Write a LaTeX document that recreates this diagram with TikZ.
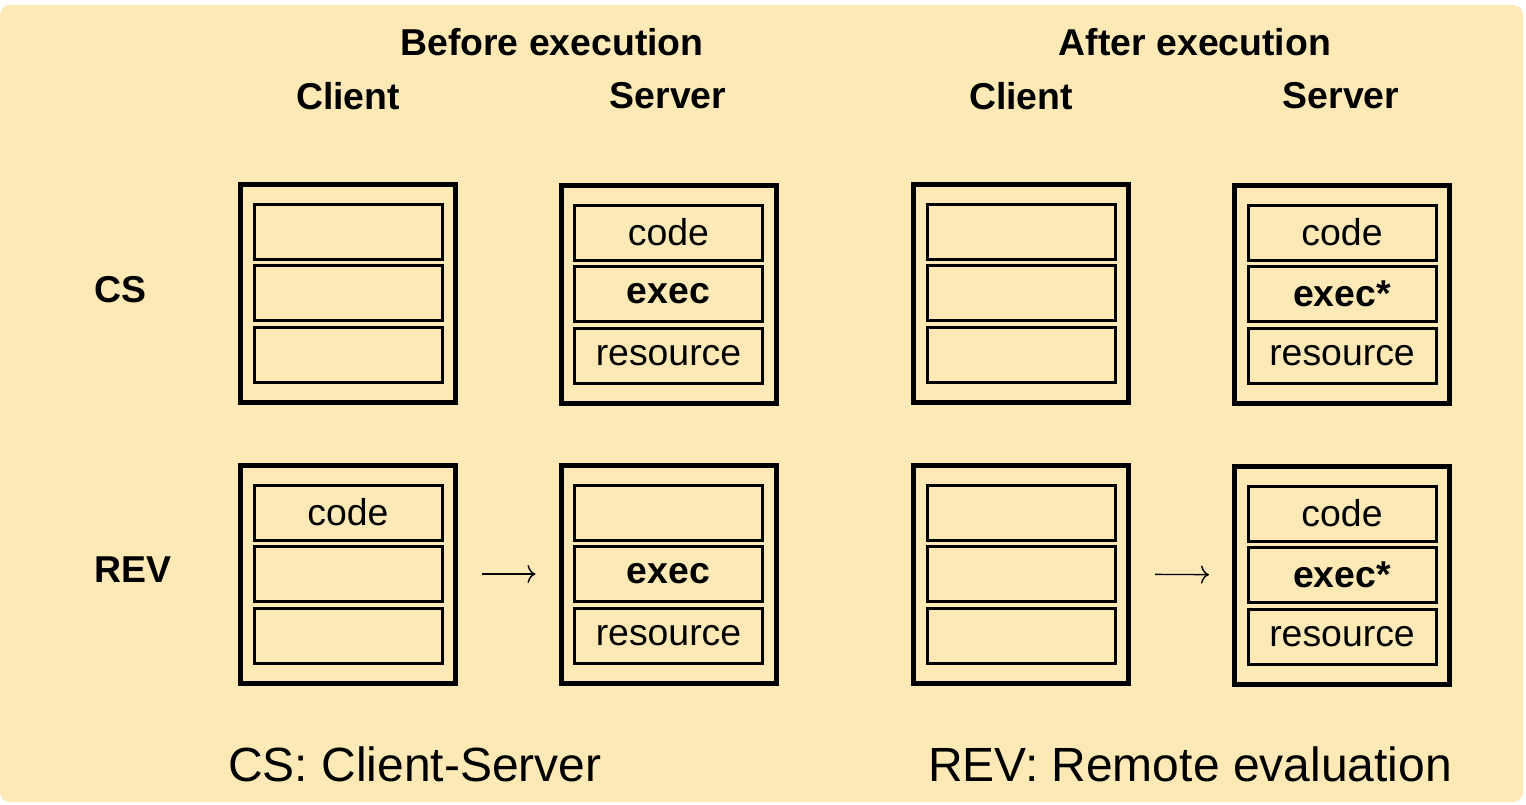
\documentclass[tikz,border=0pt]{standalone}
\usepackage{fontspec}
\setmainfont{Liberation Sans}
\usetikzlibrary{fit,positioning,arrows.meta}
\definecolor{paper}{HTML}{FDE9B5}
\tikzset{x=0.5pt, y=-0.5pt, % one unit is one pixel of the picture
node distance=1.75pt, % gap between the slots of one machine
every node/.style={font=\fontsize{18.7}{22}\selectfont},
slot/.style={draw, line width=1.5pt, minimum width=94pt, minimum height=27.5pt, inner sep=0pt}, % one slot of a machine
machine/.style={draw, line width=2.5pt, inner xsep=6pt, inner ysep=9.25pt}, % the frame round the slots
head/.style={font=\fontsize{18.7}{22}\selectfont\bfseries},
caption/.style={font=\fontsize{24}{28}\selectfont},
flow/.style={-{To[length=4pt,width=9pt]}, line width=0.7pt, shorten <=12pt, shorten >=11.5pt},
}
\begin{document}
\begin{tikzpicture}
\useasboundingbox (0,0) rectangle (1526,804);
\fill[paper, rounded corners=5pt] (0,5) rectangle (1523,802);
\node[head] (before) at (552,42) {Before execution};
\node[head] (after) at (1195,42) {After execution};
\node[head] (client1) at (348,96) {Client};
\node[head] (server1) at (668,96) {Server};
\node[head] (client2) at (1021,96) {Client};
\node[head] (server2) at (1341,96) {Server};
\node[head] (cs) at (120,290) {CS};
\node[head] (rev) at (133,570) {REV};
\foreach \m/\x/\y/\ta/\tb/\tc in {
  csbc/348/293/{}/{}/{},
  csbs/668.5/294/code/\textbf{exec}/resource,
  csac/1021/293/{}/{}/{},
  csas/1342/294/code/\textbf{exec*}/resource,
  revbc/348/574/code/{}/{},
  revbs/668.5/574/{}/\textbf{exec}/resource,
  revac/1021/574/{}/{}/{},
  revas/1342/575/code/\textbf{exec*}/resource}
{
  \node[slot] (\m2) at (\x,\y) {\tb};
  \node[slot, above=of \m2] (\m1) {\ta};
  \node[slot, below=of \m2] (\m3) {\tc};
  \node[machine, fit=(\m1)(\m3)] (\m) {};
}
\draw[flow] (revbc) -- (revbs);
\draw[flow] (revac) -- (revas);
\node[caption] (cscap) at (415,764) {CS: Client-Server};
\node[caption] (revcap) at (1190,764) {REV: Remote evaluation};
\end{tikzpicture}
\end{document}
